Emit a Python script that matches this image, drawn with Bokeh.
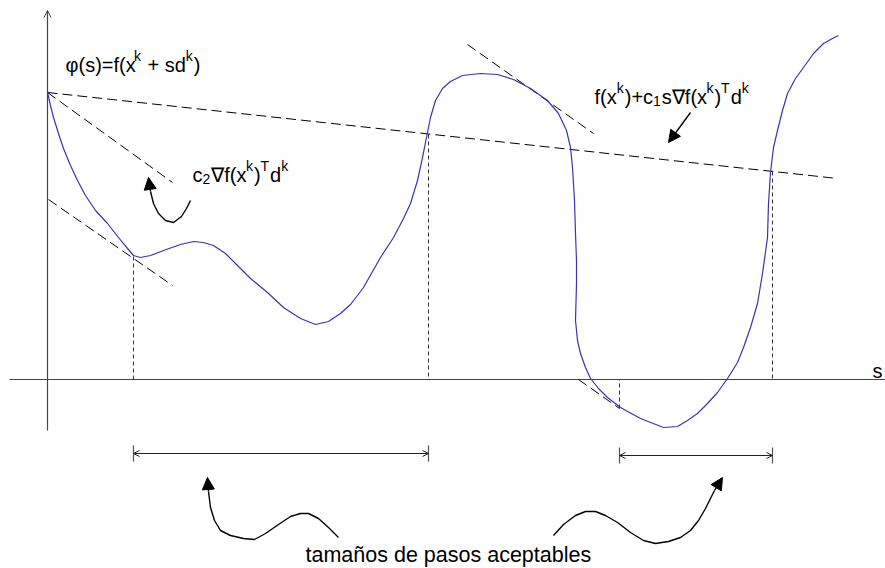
from bokeh.plotting import figure
from bokeh.models import Range1d, Arrow, NormalHead, OpenHead, ColumnDataSource
from bokeh.core.properties import value
from bokeh.embed import file_html
from bokeh.resources import INLINE

# Sketch coordinates: s runs to the right, phi grows upward (screen y points down).
# phi(s) along the search direction
phi_s = [47, 50, 53, 58, 63, 70, 77, 85, 95, 107, 118, 127, 133, 140, 150, 163, 180,
         193, 203, 213, 225, 237, 250, 267, 283, 300, 315, 328, 340, 350, 363, 380,
         393, 403, 410, 417, 422, 426, 430, 435, 442, 450, 462, 480, 497, 513, 530,
         547, 558, 566, 570, 572, 574, 575, 576, 576, 575, 577, 580, 585, 590, 598,
         607, 620, 640, 663, 677, 687, 697, 707, 717, 727, 737, 743, 750, 757, 762,
         767, 768, 770, 773, 777, 782, 787, 795, 803, 813, 823, 832, 838]
phi_v = [92, 105, 117, 133, 148, 165, 180, 195, 210, 223, 237, 248, 255, 257, 255, 250,
         244, 241, 242, 245, 253, 265, 278, 292, 307, 318, 324, 321, 313, 304, 287, 257,
         237, 218, 203, 180, 157, 137, 117, 100, 88, 81, 75, 73, 74, 79, 88,
         100, 113, 130, 147, 167, 200, 233, 260, 283, 320, 340, 353, 367, 378, 388,
         397, 407, 418, 427, 426, 420, 413, 403, 392, 378, 362, 347, 327, 303, 273,
         237, 203, 172, 147, 130, 110, 93, 78, 67, 53, 43, 38, 35]

s0, phi0, s_axis = 47, 92, 379          # origin of the line search and s-axis level
s_end, phi_end = 837, 178               # sufficient-decrease line end
c2_end = (172, 182)                     # curvature slope line from phi(0)
tang_a = [(48, 199), (172, 285)]        # tangent at first acceptable point
tang_b = [(467, 44), (593, 133)]        # tangent near the hump
tang_c = [(578, 379), (619, 408)]       # tangent at second acceptable point
accept_s = [133, 428, 619, 772]         # ends of acceptable intervals
accept_phi = [256, 134, 408, 171]
intervals = [(133, 428, 453), (619, 772, 455)]

# hand-drawn pointers
ptr_c2 = [(190, 200), (186, 208), (181, 216), (173, 222), (165, 220), (158, 213),
          (153, 203), (150, 191)]
ptr_left = [(338, 537), (328, 527), (318, 518), (308, 513), (300, 513), (290, 516),
            (278, 524), (265, 533), (254, 539), (243, 538), (230, 535), (220, 530),
            (214, 520), (210, 507), (208, 491)]
ptr_right = [(553, 535), (563, 524), (575, 515), (585, 511), (595, 511), (605, 515),
             (617, 522), (630, 532), (643, 540), (655, 543), (668, 541), (680, 537),
             (690, 530), (698, 520), (705, 508), (714, 490)]
tips = [(148, 177), (207, 477), (722, 477)]

# formula labels: (start x, baseline, [(text, role)])
label_phi = (65, 64, [("\u03c6(s)=f(x", "n"), ("k", "sup"), (" + sd", "n"), ("k", "sup"),
                      (")", "n")])
label_c2 = (192, 174, [("c", "n"), ("2", "sub"), ("\u2207f(x", "n"), ("k", "sup"),
                       (")", "n"), ("T", "sup"), ("d", "n"), ("k", "sup")])
label_c1 = (594, 96, [("f(x", "n"), ("k", "sup"), (")+c", "n"), ("1", "sub"),
                      ("s\u2207f(x", "n"), ("k", "sup"), (")", "n"), ("T", "sup"),
                      ("d", "n"), ("k", "sup")])
axis_name = "s"
caption = "tama\u00f1os de pasos aceptables"

FONT = value("Liberation Sans")
M, m = 20, 14
# advance widths (em) used to set script pieces next to each other
ADV = {"\u03c6": 0.56, "(": 0.333, ")": 0.333, "s": 0.5, "=": 0.584, "f": 0.278,
       "x": 0.5, "k": 0.5, " ": 0.278, "+": 0.584, "d": 0.556, "c": 0.5, "2": 0.556,
       "1": 0.556, "T": 0.611, "\u2207": 0.62}
SHIFT = {"n": 0, "sup": -9, "sub": 4}

p = figure(width=885, height=568, x_range=Range1d(0, 885), y_range=Range1d(568, 0),
           output_backend="svg", toolbar_location=None, min_border=0)
p.axis.visible = False
p.grid.visible = False
p.outline_line_color = None
p.background_fill_color = "white"

AX = "#444444"
# axes
p.segment(x0=[9], y0=[s_axis], x1=[885], y1=[s_axis], line_color=AX, line_width=1.2)
p.add_layout(Arrow(x_start=s0, y_start=430, x_end=s0, y_end=10, line_color=AX,
                   line_width=1.2, end=OpenHead(size=7, line_color=AX, line_width=1)))

# dashed reference lines
dash = dict(line_color="black", line_width=1, line_dash="10 5")
p.line([s0, s_end], [phi0, phi_end], **dash)
p.line([s0, c2_end[0]], [phi0, c2_end[1]], **dash)
for t in (tang_a, tang_b, tang_c):
    p.line([t[0][0], t[1][0]], [t[0][1], t[1][1]], **dash)

# dotted drop lines to the s-axis
p.segment(x0=accept_s, y0=accept_phi, x1=accept_s, y1=[s_axis] * 4,
          line_color="#333333", line_width=1, line_dash="4 3")

# phi(s)
p.line(phi_s, phi_v, line_color="#3a34b0", line_width=1.2, line_join="round")

# acceptable step-size intervals
for a, b, y in intervals:
    p.add_layout(Arrow(x_start=a, y_start=y, x_end=b, y_end=y, line_color="#222222",
                       line_width=1.2,
                       start=OpenHead(size=6, line_color="#222222", line_width=1),
                       end=OpenHead(size=6, line_color="#222222", line_width=1)))
    p.segment(x0=[a, b], y0=[y - 8, y - 8], x1=[a, b], y1=[y + 8, y + 8],
              line_color="#555555", line_width=1.2)

# pointers with filled heads
for pts, tip in zip((ptr_c2, ptr_left, ptr_right), tips):
    xs = [q[0] for q in pts]
    ys = [q[1] for q in pts]
    p.line(xs, ys, line_color="black", line_width=1.4, line_join="round")
    p.add_layout(Arrow(x_start=xs[-1], y_start=ys[-1], x_end=tip[0], y_end=tip[1],
                       line_color="black", line_width=1.4,
                       end=NormalHead(size=12, fill_color="black", line_color="black")))
p.add_layout(Arrow(x_start=690, y_start=112, x_end=668, y_end=142, line_color="black",
                   line_width=1.4,
                   end=NormalHead(size=12, fill_color="black", line_color="black")))

# lay out formula pieces left to right (SVG drops leading blanks, so skip them here)
tx, ty, tt, tf = [], [], [], []
for x0, base, parts in (label_phi, label_c2, label_c1):
    x = x0
    for txt, role in parts:
        size = M if role == "n" else m
        lead = len(txt) - len(txt.lstrip(" "))
        x += lead * ADV[" "] * size
        body = txt.lstrip(" ")
        tx.append(x)
        ty.append(base + SHIFT[role])
        tt.append(body)
        tf.append(f"{size}px")
        x += sum(ADV[ch] for ch in body) * size + (1 if role != "n" else 0)

tx += [872, 305]
ty += [370, 554]
tt += [axis_name, caption]
tf += ["20px", "21.5px"]

src = ColumnDataSource(dict(t=tt, x=tx, y=ty, fs=tf))
p.text(x="x", y="y", text="t", source=src, text_font=FONT, text_font_size="fs",
       text_baseline="alphabetic", text_align="left", text_color="black")

open("out.html", "w").write(file_html(p, INLINE))
